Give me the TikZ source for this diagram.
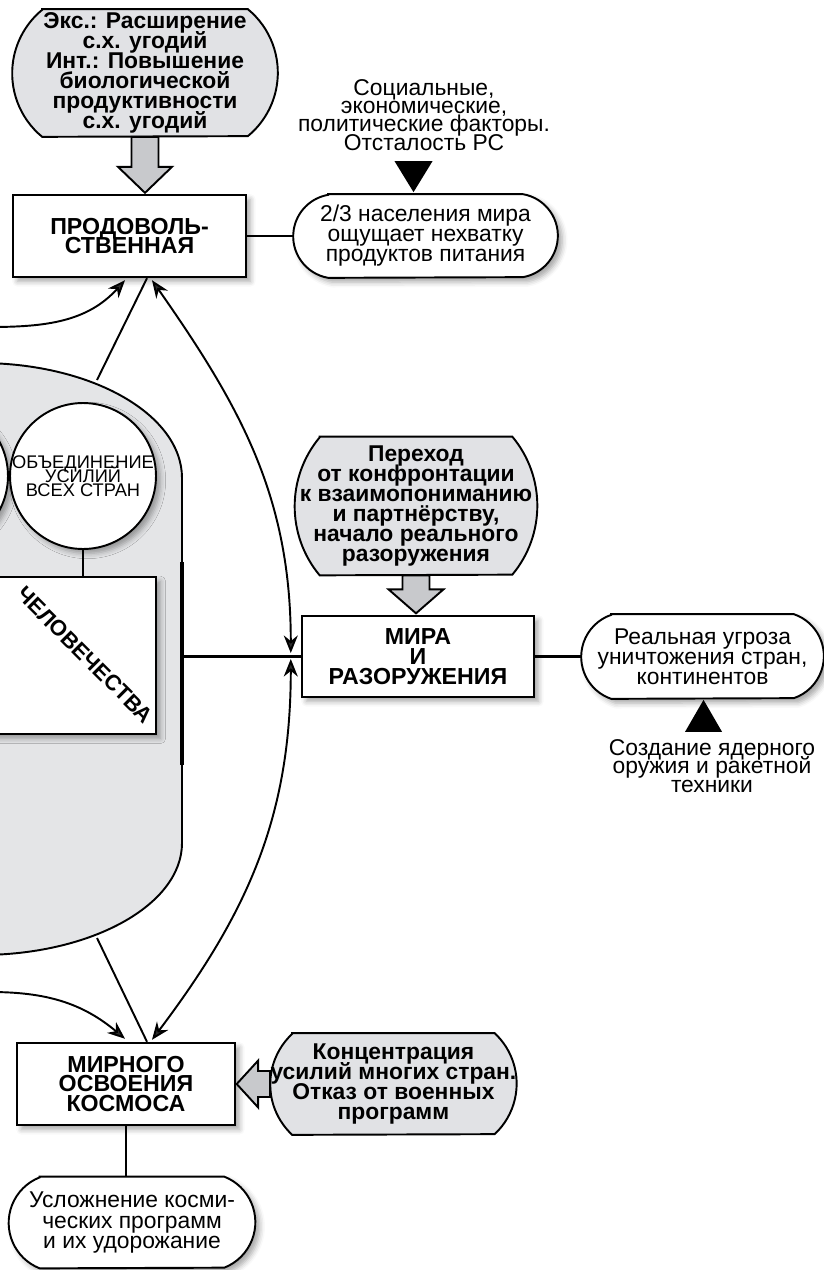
\documentclass[tikz,border=0pt]{standalone}
\usepackage{fontspec}
\setmainfont{Liberation Sans}
\usetikzlibrary{arrows.meta, positioning, calc, shadows.blur}
\definecolor{pillgray}{RGB}{225,226,229}
\definecolor{humgray}{RGB}{228,229,231}
\definecolor{fatgray}{RGB}{200,201,204}
\pgfdeclarelayer{background}
\pgfsetlayers{background,main}
\global\lineskiplimit=-20pt

\begin{document}
\begin{tikzpicture}[
  x=0.02cm, y=0.02cm,
  softshadow/.style={
    blur shadow={shadow xshift=2.5pt, shadow yshift=-2.5pt,
      shadow blur radius=3pt, shadow opacity=35}
  },
  box/.style={
    rectangle,
    draw,
    line width=1.4pt,
    fill=white,
    align=center,
    inner sep=0pt,
    font=\fontsize{13.2}{11.3}\selectfont\bfseries,
    softshadow
  },
  pilltext/.style={
    rectangle,
    align=center,
    inner sep=0pt
  },
  graytext/.style={
    pilltext,
    font=\fontsize{13}{11.3}\selectfont\bfseries
  },
  whitetext/.style={
    pilltext,
    font=\fontsize{13}{11.4}\selectfont
  },
  graypill/.style={draw, line width=1.1pt, fill=pillgray},
  whitepill/.style={draw, line width=1.1pt, fill=white, softshadow},
  pillpath/.style n args={3}{
    insert path={
      let \n1={(#3*#3+#2*#2)/(2*#2)}, \n2={asin(#3/\n1)} in
      ($(#1.north west)+(#2,0)$) -- ($(#1.north east)+(-#2,0)$)
      arc[start angle=\n2, end angle=-\n2, radius=\n1]
      -- ($(#1.south west)+(#2,0)$)
      arc[start angle=180+\n2, end angle=180-\n2, radius=\n1] -- cycle
    }
  },
  bubble/.style={
    circle,
    draw,
    line width=1.1pt,
    fill=white,
    minimum size=2.92cm,
    inner sep=0pt,
    softshadow
  },
  note/.style={align=center, font=\fontsize{13}{10.4}\selectfont},
  link/.style={line width=1.5pt},
  bus/.style={line width=2.6pt},
  arrow/.style={-{Stealth[length=10pt,width=8pt]}, line width=1.1pt},
  dblarrow/.style={{Stealth[length=10pt,width=8pt]}-{Stealth[length=10pt,width=8pt]}, line width=1.1pt},
  fatarrow/.style={draw, line width=1.1pt, fill=fatgray, line join=miter},
  hump/.style={draw, line width=1.1pt, fill=humgray}
]

\useasboundingbox (0,0) rectangle (824,-1270);

% ============================================================
% Background block
% ============================================================

\draw[hump] (-40,-363) -- (-20,-363)
  arc[start angle=90, end angle=0, x radius=202, y radius=115]
  -- (182,-843)
  arc[start angle=0, end angle=-90, x radius=202, y radius=112]
  -- (-40,-955) -- cycle;

% ============================================================
% Food problem
% ============================================================

\node[graytext, minimum width=5.3cm, minimum height=2.54cm] (expl) at (145,-73) {
Экс.: Расширение\\с.х. угодий\\Инт.: Повышение\\биологической\\продуктивности\\с.х. угодий
};

\node[box, minimum width=4.66cm, minimum height=1.64cm] (food) at (129.5,-236) {ПРОДОВОЛЬ-\\СТВЕННАЯ};
\node[whitetext, minimum width=5.28cm, minimum height=1.66cm, right=0.92cm of food] (hunger) {
2/3 населения мира\\ощущает нехватку\\продуктов питания
};
\node[note] (foodcause) at (424,-115) {Социальные,\\экономические,\\политические факторы.\\Отсталость РС};

% ============================================================
% Mankind block
% ============================================================

\node[bubble] (unitew) at (-65,-476) {};
\node[bubble, label={[font=\fontsize{10.4}{8}\selectfont, align=center]center:{ОБЪЕДИНЕНИЕ\\УСИЛИЙ\\ВСЕХ СТРАН}}] (unite) at (83,-476) {};

\node[box, minimum width=5.12cm, minimum height=3.14cm] (mankind) at (28,-655.5) {};
\node[font=\fontsize{12.5}{12}\selectfont\bfseries, rotate=-45] (mankindlbl) at (85,-655) {ЧЕЛОВЕЧЕСТВА};

% ============================================================
% Peace and disarmament
% ============================================================

\node[graytext, minimum width=4.84cm, minimum height=2.76cm] (detente) at (416,-506) {
Переход\\от конфронтации\\к взаимопониманию\\и партнёрству,\\начало реального\\разоружения
};

\node[box, minimum width=4.64cm, minimum height=1.62cm] (peace) at (418,-656.5) {МИРА\\И\\РАЗОРУЖЕНИЯ};
\node[whitetext, minimum width=4.84cm, minimum height=1.68cm, right=0.92cm of peace] (threat) {
Реальная угроза\\уничтожения стран,\\континентов
};
\node[note] (nuke) at (712,-766) {Создание ядерного\\оружия и ракетной\\техники};

% ============================================================
% Space
% ============================================================

\node[box, minimum width=4.36cm, minimum height=1.64cm] (space) at (126,-1084) {МИРНОГО\\ОСВОЕНИЯ\\КОСМОСА};
\node[graytext, minimum width=4.82cm, minimum height=2.02cm, right=0.68cm of space] (concent) {
Концентрация\\усилий многих стран.\\Отказ от военных\\программ
};
\node[whitetext, minimum width=4.92cm, minimum height=1.82cm] (cost) at (132,-1222.5) {
Усложнение косми-\\ческих программ\\и их удорожание
};

% pill outlines behind the texts
\begin{pgfonlayer}{background}
\draw[graypill, pillpath={expl}{30}{63.5}];
\draw[graypill, pillpath={detente}{25}{69}];
\draw[graypill, pillpath={concent}{22}{50.5}];
\draw[whitepill, pillpath={hunger}{35}{41.5}];
\draw[whitepill, pillpath={threat}{30}{42}];
\draw[whitepill, pillpath={cost}{31}{45.5}];
\end{pgfonlayer}

% ============================================================
% Connectors
% ============================================================

\coordinate (bustop) at (182,-562);
\coordinate (busbot) at (182,-765);
\coordinate (humtop) at (97,-380);
\coordinate (humbot) at (97,-938);
\coordinate (westA) at (-10,-327);
\coordinate (westC) at (-10,-992);
\coordinate (meet) at ($(peace.west)+(-10,0)$);

\draw[link] (food) -- (hunger);
\draw[link] (peace) -- (threat);
\draw[link] (space.south) -- (space.south |- cost.north);
\draw[link] (unite.south) -- (unite.south |- mankind.north);
\draw[bus] (bustop) -- (busbot);
\draw[link] (peace.west -| bustop) -- (peace.west);

\draw[arrow] (westA) to[out=0,in=228] ($(food.south)+(-4.5,-2)$);
\draw[line width=1.1pt] ($(food.south)+(17.5,0)$) -- (humtop);
\draw[dblarrow] ($(food.south)+(22.5,-2)$) to[out=-55,in=90] ($(meet)+(0,3.5)$);
\draw[dblarrow] ($(meet)+(0,-2.5)$) to[out=-90,in=53] ($(space.north)+(26,2)$);
\draw[line width=1.1pt] (humbot) -- ($(space.north)+(21,0)$);
\draw[arrow] (westC) to[out=0,in=140] ($(space.north)+(-1,3)$);

% block arrows and triangles
\draw[fatarrow] ($(expl.south)+(-13.5,0)$) -- ++(0,-30) -- ++(-13.5,0) -- ++(27,-26) -- ++(27,26) -- ++(-13.5,0) -- ++(0,30) -- cycle;
\draw[fatarrow] ($(detente.south)+(-13.5,0)$) -- ++(0,-14) -- ++(-14,0) -- ++(27.5,-24) -- ++(27.5,24) -- ++(-14,0) -- ++(0,14) -- cycle;
\draw[fatarrow] ($(concent.west)+(0,13)$) -- ++(-12,0) -- ++(0,10.5) -- ++(-21.5,-23.5) -- ++(21.5,-23.5) -- ++(0,10.5) -- ++(12,0) -- cycle;

\fill ($(hunger.north)+(-12,2)$) -- ++(-19,31) -- ++(38,0) -- cycle;
\fill ($(threat.south)+(1,-1)$) -- ++(-18.5,-32) -- ++(37,0) -- cycle;

\end{tikzpicture}
\end{document}
